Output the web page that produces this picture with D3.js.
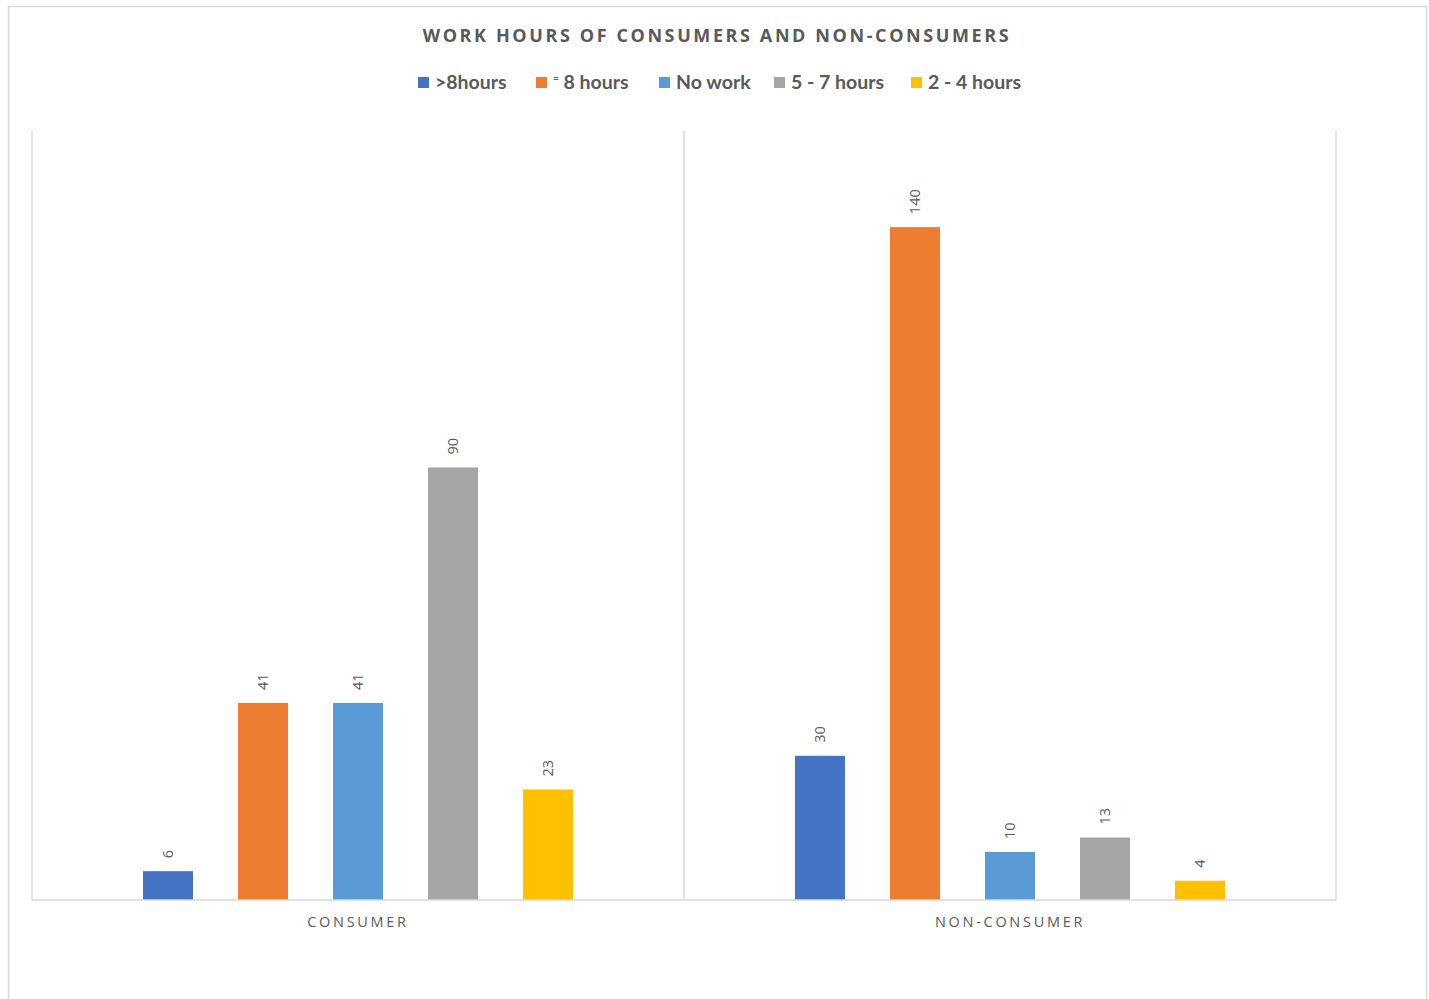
<!DOCTYPE html>
<html><head><meta charset="utf-8">
<script src="https://cdn.jsdelivr.net/npm/d3@7"></script>
<style>
html,body{margin:0;padding:0;background:#fff;}
svg{display:block;}
text{font-family:"Open Sans","Lato",sans-serif;}
</style></head>
<body>
<svg id="chart" width="1429" height="999"></svg>
<script>
const categories = ["CONSUMER", "NON-CONSUMER"];
const seriesNames = [">8hours", "= 8 hours", "No work", "5 - 7 hours", "2 - 4 hours"];
const seriesColors = ["#4472C4", "#ED7D31", "#5B9BD5", "#A5A5A5", "#FFC000"];
const consumerValues = [6, 41, 41, 90, 23];
const nonConsumerValues = [30, 140, 10, 13, 4];
const valuesByCategory = [consumerValues, nonConsumerValues];

const svg = d3.select("#chart");
const plot = {left: 32, right: 1336, top: 131, bottom: 900};

// outer border
svg.append("rect").attr("x", 8.5).attr("y", 6.5).attr("width", 1418).attr("height", 1000)
  .attr("fill", "none").attr("stroke", "#d9d9d9").attr("stroke-width", 1.5);

// title
svg.append("text").attr("x", 717).attr("y", 42).attr("text-anchor", "middle")
  .attr("fill", "#595959").style("font-size", "18px").style("font-weight", "700")
  .style("letter-spacing", "2.6px").text("WORK HOURS OF CONSUMERS AND NON-CONSUMERS");

const x0 = d3.scaleBand().domain(categories).range([plot.left, plot.right]).padding(0);
const x1 = d3.scaleBand().domain(seriesNames).range([0, x0.bandwidth()])
  .paddingInner(45 / 95).paddingOuter(111 / 95);
const y = d3.scaleLinear().domain([0, 160]).range([plot.bottom, plot.top]);

// vertical gridlines at category boundaries
const bounds = categories.map(c => x0(c)).concat([plot.right]);
svg.append("g").selectAll("line").data(bounds).join("line")
  .attr("x1", d => d).attr("x2", d => d)
  .attr("y1", plot.top).attr("y2", plot.bottom)
  .attr("stroke", "#d9d9d9").attr("stroke-width", 1.5);

// bars
const groups = svg.append("g").selectAll("g").data(categories).join("g")
  .attr("transform", c => `translate(${x0(c)},0)`);
const rows = (c, i) => valuesByCategory[i].map((v, j) => ({s: seriesNames[j], v, j}));
groups.selectAll("rect").data(rows).join("rect")
  .attr("x", d => x1(d.s)).attr("width", x1.bandwidth())
  .attr("y", d => y(d.v)).attr("height", d => y(0) - y(d.v))
  .attr("fill", d => seriesColors[d.j]);
groups.selectAll("text").data(rows).join("text")
  .attr("transform", d => `translate(${x1(d.s) + x1.bandwidth() / 2 + 5},${y(d.v) - 13}) rotate(-90)`)
  .attr("text-anchor", "start").attr("fill", "#595959").style("font-size", "14.5px")
  .text(d => d.v);

// baseline
svg.append("line").attr("x1", plot.left).attr("x2", plot.right)
  .attr("y1", plot.bottom).attr("y2", plot.bottom)
  .attr("stroke", "#d9d9d9").attr("stroke-width", 1.5);

// category axis
const xAxis = d3.axisBottom(x0).tickSize(0).tickPadding(0);
const ax = svg.append("g").attr("transform", `translate(0,${plot.bottom})`).call(xAxis);
ax.select(".domain").remove();
ax.selectAll("text").attr("y", 27).attr("dy", 0).attr("fill", "#595959")
  .style("font-size", "14.5px").style("letter-spacing", "2.7px")
  .style("font-family", "'Open Sans',sans-serif");

// legend
const legendX = [418, 536, 659, 774, 911];
const leg = svg.append("g").selectAll("g").data(seriesNames).join("g")
  .attr("transform", (d, i) => `translate(${legendX[i]},0)`);
leg.append("rect").attr("x", 0).attr("y", 77).attr("width", 11).attr("height", 11)
  .attr("fill", (d, i) => seriesColors[i]);
leg.each(function(d, i) {
  const t = d3.select(this).append("text").attr("x", 17).attr("y", 89)
    .attr("fill", "#595959").style("font-size", "19.5px").style("font-weight", "700")
    .style("font-family", "'Lato','Open Sans',sans-serif");
  if (d.startsWith("=")) {
    t.append("tspan").text("=").style("font-size", "10px").attr("dy", -7);
    t.append("tspan").text(" " + d.slice(2)).attr("dy", 7);
  } else {
    t.text(d);
  }
});
</script>
</body></html>
